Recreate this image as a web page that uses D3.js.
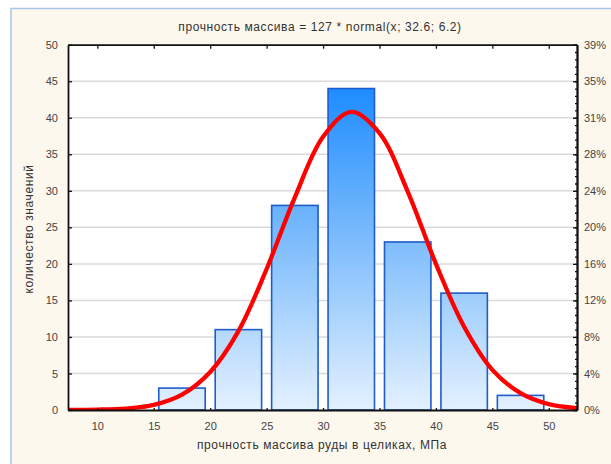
<!DOCTYPE html>
<html>
<head>
<meta charset="utf-8">
<script src="https://cdn.jsdelivr.net/npm/d3@7"></script>
<style>
  body { margin: 0; background: #fff; }
  text { font-family: "Liberation Sans", Arial, sans-serif; }
</style>
</head>
<body>
<svg width="611" height="464"></svg>
<script>
// bins of the histogram (lower edge, upper edge) and counts
const binLow = [15, 20, 25, 30, 35, 40, 45];
const binHigh = [20, 25, 30, 35, 40, 45, 50];
const counts = [3, 11, 28, 44, 23, 16, 2];
const total = 127;

// fitted curve
const curveX = [7.4, 10, 12.5, 15, 17.5, 20, 22.5, 25, 27.5, 30, 32.5, 35, 37.5, 40, 42.5, 45, 47.5, 50, 52.5];
const curveY = [0.01, 0.05, 0.2, 0.7, 2.1, 5.2, 10.8, 19.3, 29.1, 37.4, 40.8, 37.9, 29.9, 20.0, 11.4, 5.5, 2.3, 0.8, 0.25];

const xTicks = [10, 15, 20, 25, 30, 35, 40, 45, 50];
const yTicks = [0, 5, 10, 15, 20, 25, 30, 35, 40, 45, 50];

const title = "прочность массива = 127 * normal(x; 32.6; 6.2)";
const xTitle = "прочность массива руды в целиках, МПа";
const yTitle = "количество значений";

const svg = d3.select('svg');

const plot = {left: 68, right: 577, top: 44.7, bottom: 410};

const x = d3.scaleLinear().domain([7.4, 52.5]).range([plot.left, plot.right]);
const y = d3.scaleLinear().domain([0, 50]).range([plot.bottom, plot.top]);

// outer frame
svg.append('rect')
	.attr('x', 11).attr('y', 8.5)
	.attr('width', 620).attr('height', 470)
	.style('fill', '#fdf8ee')
	.style('stroke', '#a8c4ea')
	.style('stroke-width', 1.5);

// plot background
svg.append('rect')
	.attr('x', plot.left).attr('y', plot.top)
	.attr('width', plot.right - plot.left).attr('height', plot.bottom - plot.top)
	.style('fill', '#fff');

const defs = svg.append('defs');
const grad = defs.append('linearGradient')
	.attr('id', 'barGrad')
	.attr('gradientUnits', 'userSpaceOnUse')
	.attr('x1', 0).attr('x2', 0)
	.attr('y1', y(0)).attr('y2', y(44));
grad.append('stop').attr('offset', '0%').attr('stop-color', '#e4f1ff');
grad.append('stop').attr('offset', '60%').attr('stop-color', '#6fb5fb');
grad.append('stop').attr('offset', '100%').attr('stop-color', '#1e8cff');

defs.append('clipPath').attr('id', 'clip')
	.append('rect')
	.attr('x', plot.left).attr('y', plot.top)
	.attr('width', plot.right - plot.left).attr('height', plot.bottom - plot.top);

// horizontal grid
svg.append('g')
	.selectAll('line')
	.data(yTicks.slice(1, -1))
	.enter()
	.append('line')
	.attr('x1', plot.left).attr('x2', plot.right)
	.attr('y1', d => y(d)).attr('y2', d => y(d))
	.style('stroke', '#dadada')
	.style('stroke-width', 1.5);

// bars
svg.append('g')
	.selectAll('rect')
	.data(counts)
	.enter()
	.append('rect')
	.attr('x', (d, i) => x(binLow[i]) + 5)
	.attr('width', (d, i) => x(binHigh[i]) - x(binLow[i]) - 10)
	.attr('y', d => y(d))
	.attr('height', d => y(0) - y(d))
	.style('fill', 'url(#barGrad)')
	.style('stroke', '#1f5ccc')
	.style('stroke-width', 1.6);

// normal curve
const line = d3.line()
	.x(d => x(d[0]))
	.y(d => y(d[1]))
	.curve(d3.curveCatmullRom);

svg.append('path')
	.attr('clip-path', 'url(#clip)')
	.attr('d', line(curveX.map((v, i) => [v, curveY[i]])))
	.style('fill', 'none')
	.style('stroke', '#ff0000')
	.style('stroke-width', 4.3);

// axes
const axisColor = '#111';
svg.append('g')
	.attr('transform', `translate(0,${plot.bottom})`)
	.call(d3.axisBottom(x).tickValues(xTicks).tickSizeInner(-2).tickSizeOuter(0).tickPadding(12));
svg.append('g')
	.attr('transform', `translate(0,${plot.top})`)
	.call(d3.axisTop(x).tickValues(xTicks).tickSizeInner(-4).tickSizeOuter(0).tickFormat(''));
svg.append('g')
	.attr('transform', `translate(${plot.left},0)`)
	.call(d3.axisLeft(y).tickValues(yTicks).tickSizeInner(-4).tickSizeOuter(0).tickPadding(10));
svg.append('g')
	.attr('transform', `translate(${plot.right},0)`)
	.call(d3.axisRight(y).tickValues(yTicks).tickSizeInner(-4).tickSizeOuter(0).tickPadding(7)
		.tickFormat(d => Math.round(d / total * 100) + '%'));
// minor ticks on the right axis
svg.append('g')
	.attr('transform', `translate(${plot.right},0)`)
	.call(d3.axisRight(y).tickValues(d3.range(0, 51, 1)).tickSizeInner(-2).tickSizeOuter(0).tickFormat(''));

svg.selectAll('.domain')
	.style('stroke', axisColor)
	.style('stroke-width', 1.8);
svg.selectAll('.tick line')
	.style('stroke', axisColor)
	.style('stroke-width', 1.3);
svg.selectAll('.tick text')
	.style('font-size', '11px')
	.style('fill', '#444');

// titles
svg.append('text')
	.attr('x', 320).attr('y', 31)
	.attr('text-anchor', 'middle')
	.style('font-size', '12px')
	.style('letter-spacing', '0.6px')
	.style('fill', '#333')
	.text(title);

svg.append('text')
	.attr('x', 322).attr('y', 449)
	.attr('text-anchor', 'middle')
	.style('font-size', '12px')
	.style('letter-spacing', '0.6px')
	.style('fill', '#333')
	.text(xTitle);

svg.append('text')
	.attr('transform', 'translate(33,229) rotate(-90)')
	.attr('text-anchor', 'middle')
	.style('font-size', '12px')
	.style('letter-spacing', '0.6px')
	.style('fill', '#333')
	.text(yTitle);
</script>
</body>
</html>
